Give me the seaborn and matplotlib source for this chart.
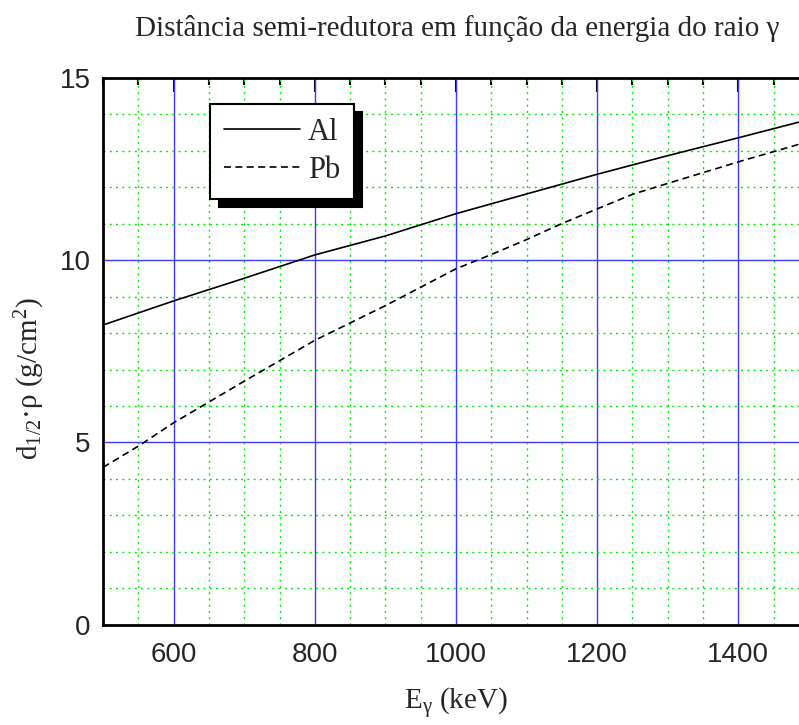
"""
Half-value layer (d1/2 * rho) vs gamma energy for Al and Pb.
"""
import matplotlib
matplotlib.use("Agg")
import matplotlib.pyplot as plt
from matplotlib.ticker import MultipleLocator
import seaborn as sns
import pandas as pd

# gamma energy (keV)
energy_al = [500, 600, 700, 800, 900, 1000, 1100, 1200, 1300, 1400, 1500]
d_al = [8.22, 8.88, 9.50, 10.14, 10.66, 11.27, 11.81, 12.35, 12.86, 13.35, 13.85]

energy_pb = [500, 550, 600, 700, 800, 900, 1000, 1050, 1100, 1150, 1200, 1250, 1300, 1400, 1500]
d_pb = [4.32, 4.90, 5.54, 6.68, 7.80, 8.75, 9.76, 10.15, 10.56, 11.00, 11.40, 11.80, 12.10, 12.69, 13.25]

title = "Distância semi-redutora em função da energia do raio γ"
xlabel = r"E$_{\mathrm{γ}}$ (keV)"
ylabel = r"d$_{\mathrm{1/2}}$·ρ (g/cm$^{\mathrm{2}}$)"

sns.set_style("white")
plt.rcParams["font.family"] = ["Liberation Sans", "DejaVu Sans"]
plt.rcParams["mathtext.fontset"] = "custom"
plt.rcParams["mathtext.rm"] = "Liberation Serif"
plt.rcParams["mathtext.it"] = "Liberation Serif:italic"
plt.rcParams["lines.scale_dashes"] = False

serif = ["Liberation Serif", "DejaVu Serif"]

df_al = pd.DataFrame({"E": energy_al, "d": d_al})
df_pb = pd.DataFrame({"E": energy_pb, "d": d_pb})

fig = plt.figure(figsize=(7.99, 7.25), dpi=100)
ax = fig.add_axes([0.129, 0.138, 0.871, 0.755])

# grid
for x in range(550, 1500, 50):
    if x % 200 == 0:
        ax.axvline(x, color="#3b3bff", lw=1.0, zorder=1)
    else:
        ax.axvline(x, color="#00ee00", lw=1.0, ls=(0, (1.5, 3)), zorder=1)
for y in range(1, 15):
    if y % 5 == 0:
        ax.axhline(y, color="#3b3bff", lw=1.0, zorder=1)
    else:
        ax.axhline(y, color="#00ee00", lw=1.0, ls=(0, (1.5, 3)), zorder=1)

sns.lineplot(data=df_al, x="E", y="d", ax=ax, color="black", lw=1.2, label="Al", zorder=3)
sns.lineplot(data=df_pb, x="E", y="d", ax=ax, color="black", lw=1.2,
             ls=(0, (5, 3.2)), label="Pb", zorder=3)

ax.set_xlim(500, 1486)
ax.set_ylim(0, 15)
ax.xaxis.set_major_locator(MultipleLocator(200))
ax.xaxis.set_minor_locator(MultipleLocator(50))
ax.yaxis.set_major_locator(MultipleLocator(5))
ax.yaxis.set_minor_locator(MultipleLocator(1))
ax.tick_params(which="both", direction="in", top=True, right=False,
               color="black", width=1.5, labelsize=20)
ax.tick_params(which="major", length=10)
ax.tick_params(which="minor", length=5)
ax.tick_params(axis="x", pad=12)
ax.tick_params(axis="y", pad=9)

for s in ["left", "bottom", "top"]:
    ax.spines[s].set_color("black")
    ax.spines[s].set_linewidth(2)
ax.spines["right"].set_visible(False)

ax.set_xlabel(xlabel, fontsize=21, family=serif)
ax.set_ylabel(ylabel, fontsize=21, family=serif)
ax.xaxis.set_label_coords(0.507, -0.112)
ax.yaxis.set_label_coords(-0.08, 0.45)

leg = ax.legend(loc="upper left", bbox_to_anchor=(0.154, 0.952), borderaxespad=0,
                fancybox=False, framealpha=1, edgecolor="black",
                shadow={"ox": 6, "oy": -6, "facecolor": "black", "edgecolor": "black", "alpha": 1},
                prop={"family": serif, "size": 22}, handlelength=2.5,
                handletextpad=0.25, labelspacing=0.3, borderpad=0.45)
leg.get_frame().set_linewidth(1.5)
leg.set_zorder(5)

fig.text(0.572, 0.961, title, ha="center", va="center", fontsize=21, family=serif)

plt.savefig("out.png", dpi=100)
